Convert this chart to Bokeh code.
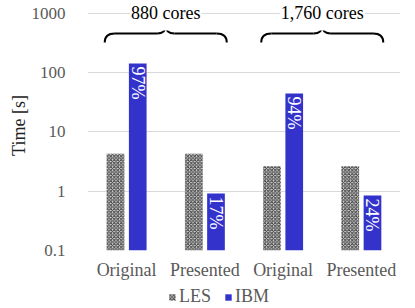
import math
from bokeh.plotting import figure
from bokeh.layouts import column
from bokeh.models import (Range1d, FixedTicker, NumeralTickFormatter, Legend,
                          LegendItem, ColumnDataSource)
from bokeh.core.properties import value
from bokeh.embed import file_html
from bokeh.resources import INLINE

# ---- data ----
categories = ["Original", "Presented", "Original", "Presented"]
les_time = [4.3, 4.3, 2.65, 2.65]
ibm_time = [143, 0.92, 44.5, 0.85]
ibm_share = ["97%", "17%", "94%", "24%"]
groups = ["880 cores", "1,760 cores"]
series = ["LES", "IBM"]
y_ticks = [0.1, 1, 10, 100, 1000]

FONT = "Liberation Serif"
GRAY = "#595959"
BLUE = "#3333cc"
LES_STYLE = dict(fill_color="#d4d4d4", line_color=None, hatch_pattern="x",
                 hatch_color="#3a3a3a", hatch_scale=3.5, hatch_weight=1)
IBM_STYLE = dict(fill_color=BLUE, line_color=None)

p = figure(width=415, height=283, output_backend="svg", toolbar_location=None,
           x_range=Range1d(0, 4), y_range=Range1d(0.1, 1657), y_axis_type="log",
           min_border_left=87, min_border_right=15, min_border_top=0,
           min_border_bottom=33)
p.outline_line_color = None
p.background_fill_color = "white"

n = len(categories)
centers = [i + 0.5 for i in range(n)]
off, bw = 0.142, 0.226
src = ColumnDataSource(dict(
    x_les=[c - off for c in centers], x_ibm=[c + off for c in centers],
    les=les_time, ibm=ibm_time, share=ibm_share))

p.vbar(x="x_les", top="les", bottom=0.1, width=bw, source=src, **LES_STYLE)
p.vbar(x="x_ibm", top="ibm", bottom=0.1, width=bw, source=src, **IBM_STYLE)

p.text(x="x_ibm", y="ibm", text="share", source=src, angle=-math.pi / 2,
       text_align="left", text_baseline="middle", x_offset=0, y_offset=3,
       text_color="white", text_font=value(FONT), text_font_size="18px")

# group braces and titles
gc = [1.0, 3.0]
half = 0.78
y_end, y_h, y_tip = 324, 459, 627
dx, dt = 0.13, 0.11
x0, y0, x1, y1, cx, cy = [], [], [], [], [], []
sx0, sx1, sy = [], [], []
for g in gc:
    xl, xr = g - half, g + half
    x0 += [xl]; y0 += [y_end]; x1 += [xl + dx]; y1 += [y_h]; cx += [xl]; cy += [y_h]
    x0 += [xr]; y0 += [y_end]; x1 += [xr - dx]; y1 += [y_h]; cx += [xr]; cy += [y_h]
    x0 += [g - dt]; y0 += [y_h]; x1 += [g]; y1 += [y_tip]; cx += [g]; cy += [y_h]
    x0 += [g + dt]; y0 += [y_h]; x1 += [g]; y1 += [y_tip]; cx += [g]; cy += [y_h]
    sx0 += [xl + dx, g + dt]; sx1 += [g - dt, xr - dx]; sy += [y_h, y_h]
p.quadratic(x0=x0, y0=y0, x1=x1, y1=y1, cx=cx, cy=cy, line_color="black", line_width=2)
p.segment(x0=sx0, y0=sy, x1=sx1, y1=sy, line_color="black", line_width=2)

p.text(x=gc, y=[1000, 1000], text=groups, text_align="center", text_baseline="middle",
       y_offset=0, text_color="black", text_font=value(FONT), text_font_size="18px",
       background_fill_color="white", padding=(1, 7))

# axes
p.xaxis.ticker = FixedTicker(ticks=centers)
p.xaxis.major_label_overrides = {c: lab for c, lab in zip(centers, categories)}
p.xaxis.major_label_text_font = FONT
p.xaxis.major_label_text_font_size = "18px"
p.xaxis.major_label_text_color = GRAY
p.xaxis.major_label_standoff = 3
p.xaxis.axis_line_color = None
p.xaxis.major_tick_line_color = None
p.xaxis.minor_tick_line_color = None

p.yaxis.ticker = FixedTicker(ticks=y_ticks)
p.yaxis.formatter = NumeralTickFormatter(format="0.[0]")
p.yaxis.major_label_text_font = FONT
p.yaxis.major_label_text_font_size = "17px"
p.yaxis.major_label_text_color = GRAY
p.yaxis.major_label_standoff = 16
p.yaxis.axis_line_color = None
p.yaxis.major_tick_line_color = None
p.yaxis.minor_tick_line_color = None
p.yaxis.axis_label = "Time [s]"
p.yaxis.axis_label_text_font = FONT
p.yaxis.axis_label_text_font_size = "18px"
p.yaxis.axis_label_text_font_style = "normal"
p.yaxis.axis_label_text_color = "#222222"
p.yaxis.axis_label_standoff = 0

p.xgrid.grid_line_color = None
p.ygrid.grid_line_color = "#d9d9d9"
p.ygrid.grid_line_width = 1

# legend strip (its frame is aligned with the chart's frame by the column)
lg = figure(width=415, height=25, output_backend="svg", toolbar_location=None,
            x_range=Range1d(0, 1), y_range=Range1d(0, 1),
            x_axis_location=None, y_axis_location=None,
            min_border_left=87, min_border_right=15, min_border_top=0,
            min_border_bottom=0)
lg.outline_line_color = None
lg.grid.visible = False
hidden = ColumnDataSource(dict(x=[0.5], top=[0]))
g_les = lg.vbar(x="x", top="top", width=0, source=hidden, **LES_STYLE)
g_ibm = lg.vbar(x="x", top="top", width=0, source=hidden, **IBM_STYLE)
legend = Legend(items=[LegendItem(label=series[0], renderers=[g_les]),
                       LegendItem(label=series[1], renderers=[g_ibm])],
                orientation="horizontal", location=(81, 1),
                glyph_width=8, glyph_height=8, label_standoff=3, spacing=13,
                padding=0, margin=0, border_line_color=None,
                background_fill_alpha=0, label_text_font=FONT,
                label_text_font_size="18px", label_text_color=GRAY)
lg.add_layout(legend, "center")

layout = column(p, lg, spacing=0)
open("out.html", "w").write(file_html(layout, INLINE))
